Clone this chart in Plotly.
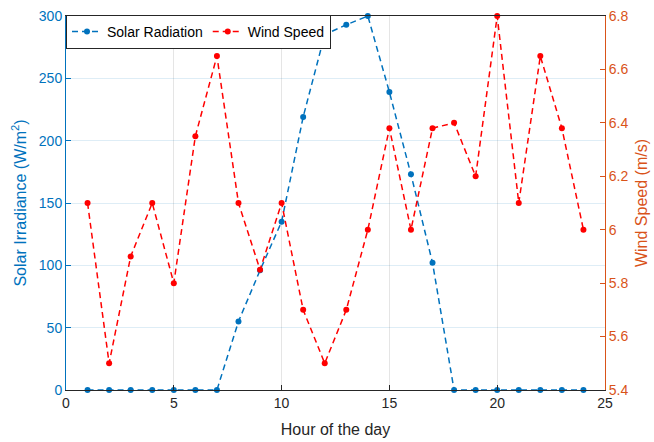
import plotly.graph_objects as go

hours = list(range(1, 25))
solar = [0, 0, 0, 0, 0, 0, 0, 55, 96, 135, 219, 285, 293, 300, 239, 173, 102,
         0, 0, 0, 0, 0, 0, 0]
wind = [6.1, 5.5, 5.9, 6.1, 5.8, 6.35, 6.65, 6.1, 5.85, 6.1, 5.7, 5.5, 5.7, 6.0,
        6.38, 6.0, 6.38, 6.4, 6.2, 6.8, 6.1, 6.65, 6.38, 6.0]

blue = "#0072BD"
red = "#FF0000"
orange = "#D95319"
font = "Liberation Sans, Arial, sans-serif"

fig = go.Figure()
fig.add_trace(go.Scatter(x=hours, y=solar, name="Solar Radiation", mode="lines+markers",
                         line=dict(color=blue, dash="6px,4px", width=1.5),
                         marker=dict(color=blue, size=6), cliponaxis=False))
fig.add_trace(go.Scatter(x=hours, y=wind, name="Wind Speed", mode="lines+markers",
                         line=dict(color=red, dash="6px,4px", width=1.5),
                         marker=dict(color=red, size=6), yaxis="y2", cliponaxis=False))

fig.update_layout(
    width=654, height=442,
    margin=dict(l=66, r=49, t=16, b=52, autoexpand=False),
    paper_bgcolor="white", plot_bgcolor="white",
    font=dict(family=font, size=14, color="#262626"),
    showlegend=True,
    legend=dict(orientation="h", x=0, y=1.003, xanchor="left", yanchor="top",
                bgcolor="white", bordercolor="#262626", borderwidth=1,
                font=dict(size=14, color="#000000"),
                itemwidth=30, tracegroupgap=0, valign="middle"),
    xaxis=dict(range=[0, 25], tickvals=[0, 5, 10, 15, 20, 25], automargin=False,
               title=dict(text="Hour of the day", font=dict(size=16, color="#262626"), standoff=14),
               showgrid=True, gridcolor="rgba(38,38,38,0.12)", zeroline=False,
               showline=True, linecolor="#262626", linewidth=1, mirror=True,
               ticks="inside", ticklen=5, tickcolor="#262626",
               tickfont=dict(size=14, color="#262626")),
    yaxis=dict(range=[0, 300], tickvals=[0, 50, 100, 150, 200, 250, 300], automargin=False,
               title=dict(text="Solar Irradiance (W/m<sup>2</sup>)", font=dict(size=16, color=blue), standoff=8),
               showgrid=True, gridcolor="rgba(0,114,189,0.13)", zeroline=False,
               showline=True, linecolor=blue, linewidth=1,
               ticks="inside", ticklen=5, tickcolor=blue,
               tickfont=dict(size=14, color=blue)),
    yaxis2=dict(range=[5.4, 6.8], tickvals=[5.4, 5.6, 5.8, 6.0, 6.2, 6.4, 6.6, 6.8],
                ticktext=["5.4", "5.6", "5.8", "6", "6.2", "6.4", "6.6", "6.8"],
                overlaying="y", side="right", automargin=False,
                title=dict(text="Wind Speed (m/s)", font=dict(size=16, color=orange), standoff=8),
                showgrid=False, zeroline=False,
                showline=True, linecolor=orange, linewidth=1,
                ticks="inside", ticklen=5, tickcolor=orange,
                tickfont=dict(size=14, color=orange)),
)

fig.write_html("out.html")
